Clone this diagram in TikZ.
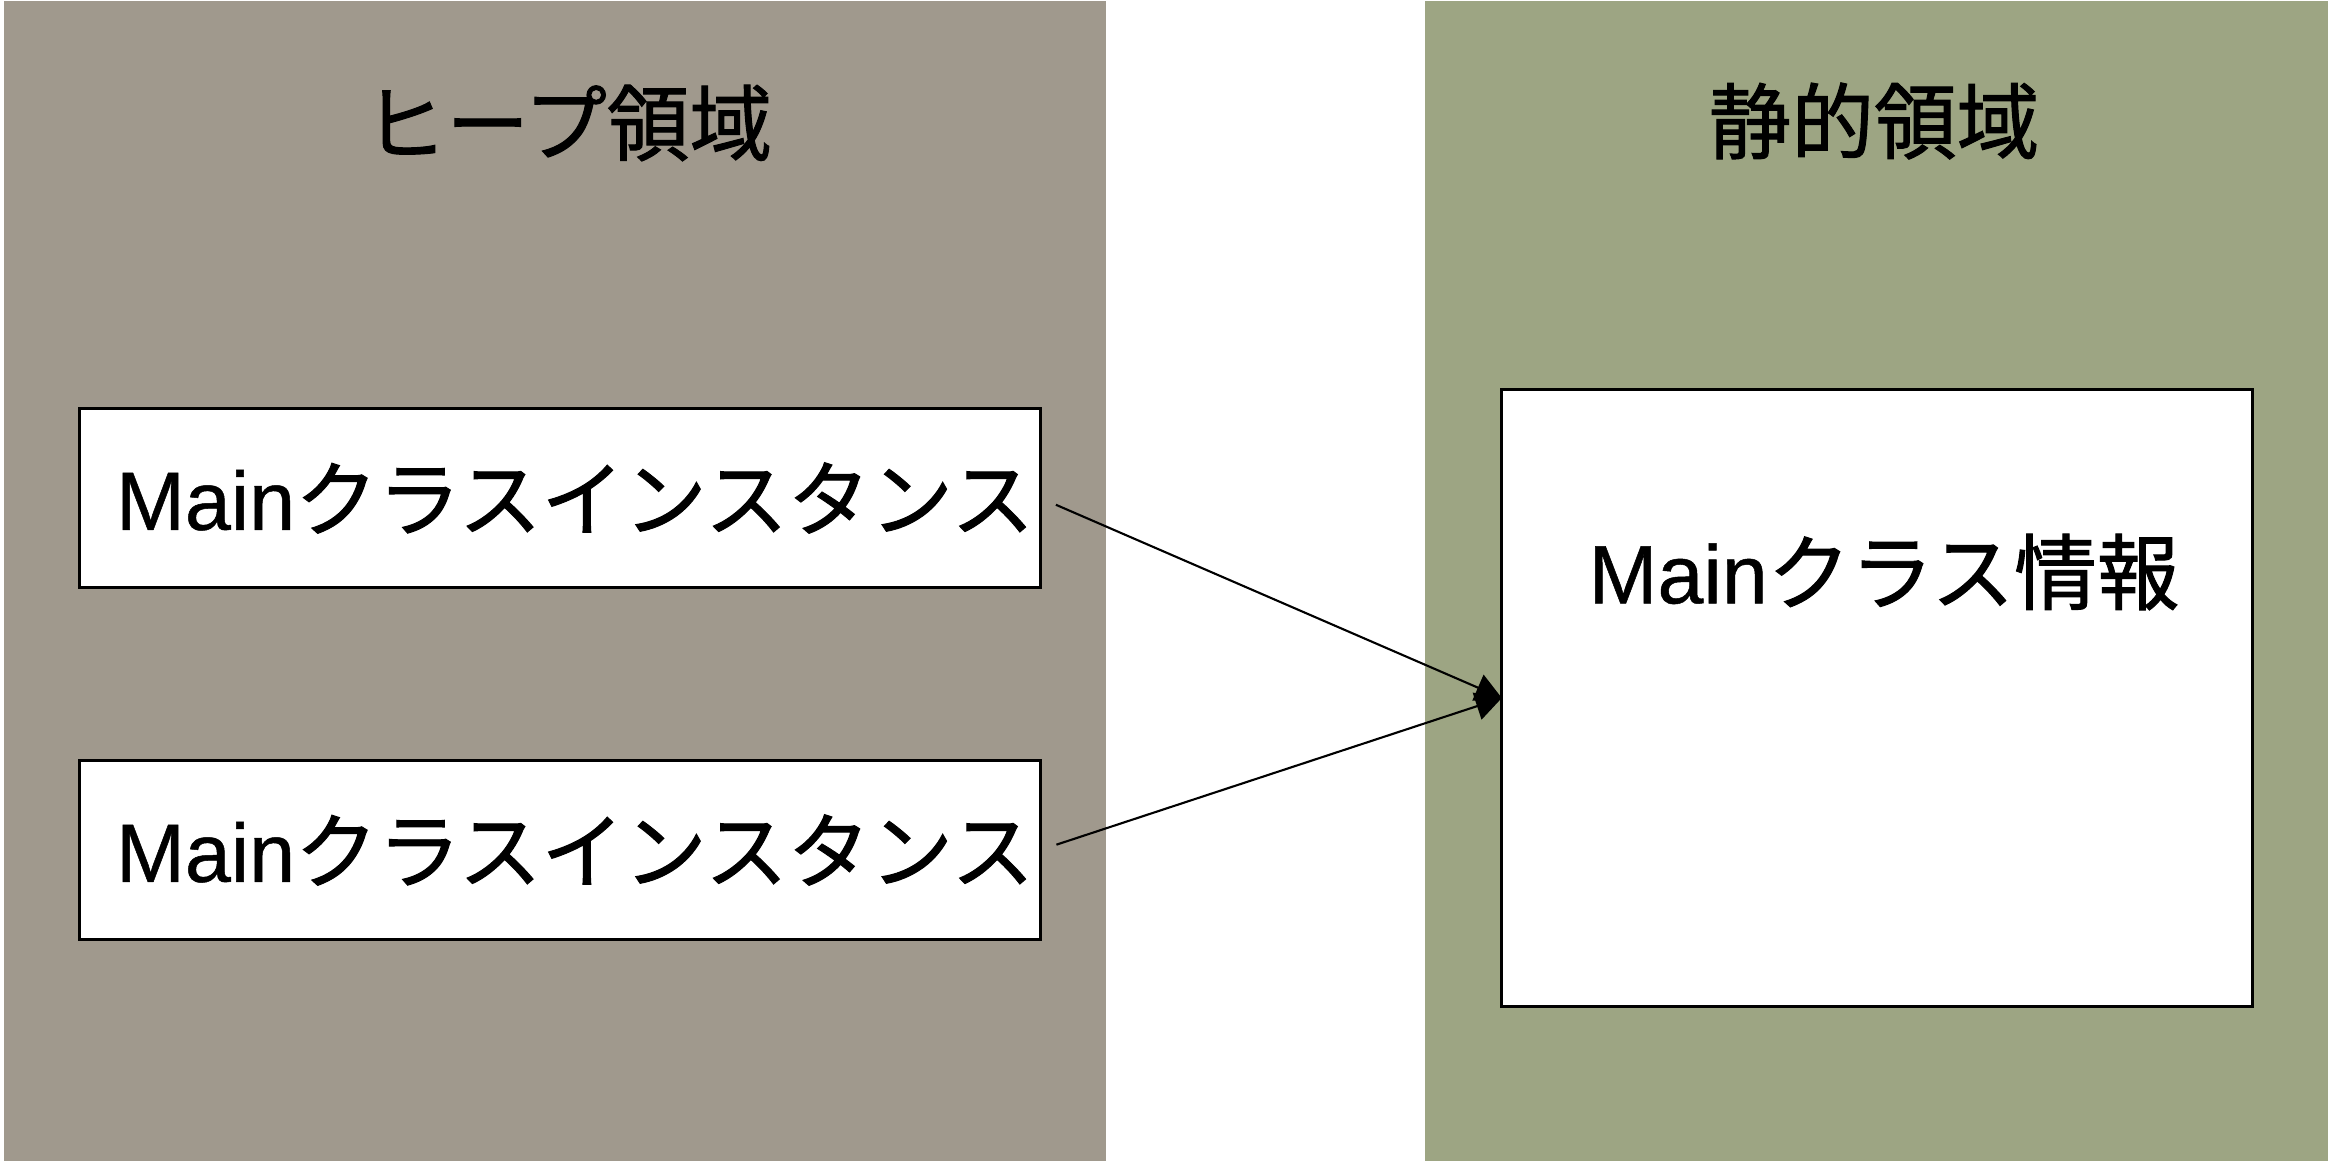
\documentclass[tikz,border=0pt]{standalone}
\usepackage{fontspec}
\setmainfont{Liberation Sans}[BoldFont={Liberation Sans},BoldFeatures={FakeBold=0.6}]
\newfontfamily\jp{Noto Sans CJK JP}[BoldFont={Noto Sans CJK JP},BoldFeatures={FakeBold=1.2}]
\usetikzlibrary{arrows.meta}
\definecolor{heapgray}{RGB}{160,153,141}
\definecolor{staticgreen}{RGB}{157,165,131}
\tikzset{
x=0.01cm, y=-0.01cm,
every node/.style=
    {font=\fontsize{23.5}{28}\selectfont\bfseries,
    inner sep=0pt,
    outer sep=0pt
    },
heading/.style=
    {text=black
    },
classbox/.style=
    {fill=white,
    draw=black,
    line width=0.85pt,
    rectangle,
    align=center
    },
ref/.style=
    {draw=black,
    line width=0.6pt,
    shorten <=0.17cm,
    -{Triangle[length=0.26cm,width=0.28cm]}
    }}

\begin{document}
\begin{tikzpicture}
\useasboundingbox (0,0) rectangle (2332,1164);
% areas
\fill[heapgray] (4,1) rectangle (1106,1161);
\fill[staticgreen] (1425,1) rectangle (2328,1161);
\node[heading] (heapTitle) at (568,123) {\jp ヒープ領域};
\node[heading] (staticTitle) at (1874,121) {\jp 静的領域};
% instances
\node[classbox,minimum width=9.6cm,minimum height=1.78cm] (inst1) at (560,498) {\hspace*{0.3cm}Main{\jp クラスインスタンス}};
\node[classbox,minimum width=9.6cm,minimum height=1.79cm] (inst2) at (560,850) {\hspace*{0.3cm}Main{\jp クラスインスタンス}};
% class info
\node[classbox,minimum width=7.5cm,minimum height=6.17cm] (info) at (1877,698) {};
\node (infoText) at (1884,572) {Main{\jp クラス情報}};
\draw[ref] (inst1.east) -- (info.west);
\draw[ref] (inst2.east) -- (info.west);
\end{tikzpicture}
\end{document}
